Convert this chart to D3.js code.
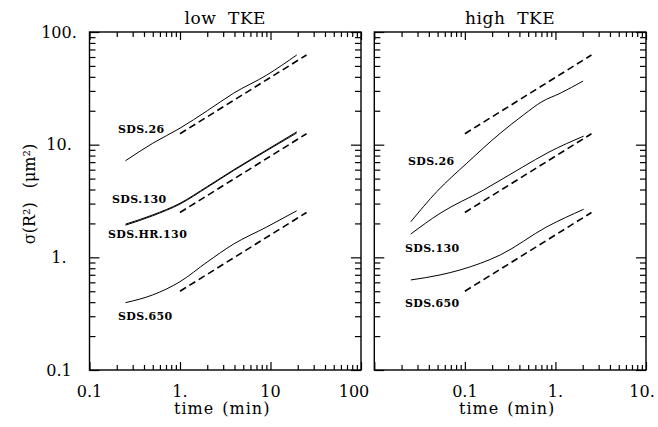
<!DOCTYPE html>
<html><head><meta charset="utf-8">
<script src="https://cdn.jsdelivr.net/npm/d3@7"></script>
<style>
html,body{margin:0;padding:0;background:#fff;}
svg{display:block;}
text{font-family:"DejaVu Serif",serif;fill:#000;}
</style></head>
<body><svg id="c" width="658" height="427"></svg>
<script>
// ---- data ----
const lowTime = [0.25, 0.5, 1, 2, 3.9, 9.1, 19.5];
const low26   = [7.2, 10.3, 14.0, 20.0, 28.6, 41.5, 62.5];
const low130  = [1.97, 2.38, 3.02, 4.25, 5.97, 9.0, 13.0];
const lowHR130= [1.93, 2.34, 2.97, 4.18, 5.88, 8.85, 12.7];
const low650  = [0.396, 0.464, 0.608, 0.91, 1.31, 1.86, 2.59];
const lowDashTime = [1, 25];
const lowDash26  = [12.5, 62.5];
const lowDash130 = [2.5, 12.5];
const lowDash650 = [0.5, 2.5];

const high26Time = [0.0253, 0.049, 0.105, 0.245, 0.445, 0.711, 1.13, 2.02];
const high26     = [2.07, 3.83, 6.84, 12.6, 18.4, 24.1, 28.6, 36.7];
const high130Time= [0.0253, 0.0533, 0.16, 0.43, 0.85, 2.05];
const high130    = [1.61, 2.46, 3.95, 6.3, 8.6, 11.9];
const high650Time= [0.0253, 0.0533, 0.0887, 0.246, 0.807, 2.05];
const high650    = [0.63, 0.698, 0.773, 1.05, 1.87, 2.67];
const highDashTime = [0.1, 2.5];
const highDash26  = [12.5, 62.5];
const highDash130 = [2.5, 12.5];
const highDash650 = [0.5, 2.5];

const yTickVals = [0.1, 1, 10, 100];
const yTickLabels = ["0.1", "1.", "10.", "100."];
const lowXTickVals = [0.1, 1, 10, 100];
const lowXTickLabels = ["0.1", "1.", "10", "100"];
const highXTickVals = [0.1, 1, 10];
const highXTickLabels = ["0.1", "1.", "10."];

// ---- layout ----
const svg = d3.select("#c");
const plotTop = 32, plotBottom = 370;
const y = d3.scaleLog().domain([0.1, 100]).range([plotBottom, plotTop]);
const panels = [
  {title:"low TKE", x:d3.scaleLog().domain([0.1,100]).range([89.5,361]),
   ticks:lowXTickVals, labels:lowXTickLabels, lastDx:-7,
   solids:[[lowTime,low26],[lowTime,low130],[lowTime,lowHR130],[lowTime,low650]],
   dashes:[[lowDashTime,lowDash26],[lowDashTime,lowDash130],[lowDashTime,lowDash650]],
   names:[["SDS.26",118,133],["SDS.130",112,203],["SDS.HR.130",108,238],["SDS.650",118,320]]},
  {title:"high TKE", x:d3.scaleLog().domain([0.01,10]).range([374.3,646]),
   ticks:highXTickVals, labels:highXTickLabels, lastDx:-4,
   solids:[[high26Time,high26],[high130Time,high130],[high650Time,high650]],
   dashes:[[highDashTime,highDash26],[highDashTime,highDash130],[highDashTime,highDash650]],
   names:[["SDS.26",408,165],["SDS.130",405,252],["SDS.650",405,307]]}
];

function minorVals(dom){
  const out=[];
  for(let e=Math.round(Math.log10(dom[0])); e<Math.round(Math.log10(dom[1])); e++){
    for(let m=2;m<=9;m++) out.push(m*Math.pow(10,e));
  }
  return out;
}
function majorVals(dom){
  const out=[];
  for(let e=Math.round(Math.log10(dom[0])); e<=Math.round(Math.log10(dom[1])); e++) out.push(Math.pow(10,e));
  return out;
}

panels.forEach(p=>{
  const x = p.x, [x0,x1]=x.range();
  const g = svg.append("g");
  const xd = x.domain(), yd = y.domain();
  const addAxis=(axis, tf, vals, size)=>{
    const a = g.append("g").attr("transform",tf)
      .call(axis.tickValues(vals).tickSize(size).tickFormat(""));
    a.select(".domain").remove();
    a.selectAll("line").attr("stroke","#000").attr("stroke-width",1.2);
  };
  addAxis(d3.axisBottom(x), `translate(0,${plotBottom})`, minorVals(xd), -5);
  addAxis(d3.axisBottom(x), `translate(0,${plotBottom})`, majorVals(xd), -8);
  addAxis(d3.axisTop(x), `translate(0,${plotTop})`, minorVals(xd), -5);
  addAxis(d3.axisTop(x), `translate(0,${plotTop})`, majorVals(xd), -8);
  addAxis(d3.axisLeft(y), `translate(${x0},0)`, minorVals(yd), -6);
  addAxis(d3.axisLeft(y), `translate(${x0},0)`, majorVals(yd), -10);
  addAxis(d3.axisRight(y), `translate(${x1},0)`, minorVals(yd), -6);
  addAxis(d3.axisRight(y), `translate(${x1},0)`, majorVals(yd), -10);
  g.append("rect").attr("x",x0).attr("y",plotTop).attr("width",x1-x0).attr("height",plotBottom-plotTop)
    .attr("fill","none").attr("stroke","#000").attr("stroke-width",1.4);
  p.ticks.forEach((v,i)=>{
    g.append("text").attr("x",x(v)+(i===p.ticks.length-1?p.lastDx:0)).attr("y",397)
      .attr("text-anchor","middle").attr("font-size",16).text(p.labels[i]);
  });
  g.append("text").attr("x",(x0+x1)/2-3).attr("y",414).attr("text-anchor","middle")
    .attr("font-size",16).attr("letter-spacing",1).attr("word-spacing",2).text("time (min)");
  g.append("text").attr("x",(x0+x1)/2).attr("y",24).attr("text-anchor","middle")
    .attr("font-size",17).attr("letter-spacing",0.5).attr("word-spacing",6).text(p.title);
  const line = d3.line().x(d=>x(d[0])).y(d=>y(d[1])).curve(d3.curveMonotoneX);
  p.solids.forEach(([t,v])=>{
    g.append("path").datum(t.map((tt,i)=>[tt,v[i]])).attr("d",line)
      .attr("fill","none").attr("stroke","#000").attr("stroke-width",1);
  });
  const lineL = d3.line().x(d=>x(d[0])).y(d=>y(d[1]));
  p.dashes.forEach(([t,v])=>{
    g.append("path").datum(t.map((tt,i)=>[tt,v[i]])).attr("d",lineL)
      .attr("fill","none").attr("stroke","#000").attr("stroke-width",1.6)
      .attr("stroke-dasharray","7,4");
  });
  p.names.forEach(([s,tx,ty])=>{
    g.append("text").attr("x",tx).attr("y",ty).attr("font-size",11)
      .attr("font-weight","bold").attr("letter-spacing",0.4).text(s);
  });
});

yTickVals.forEach((v,i)=>{
  svg.append("text").attr("x",59).attr("y",y(v)).attr("dy","0.36em")
    .attr("text-anchor","middle").attr("font-size",16).text(yTickLabels[i]);
});
const yt = svg.append("text").attr("transform","translate(35,194) rotate(-90)")
  .attr("text-anchor","middle").attr("font-size",16);
yt.append("tspan").text("σ(R²)");
yt.append("tspan").attr("dx",14).text("(μm²)");
</script></body></html>
